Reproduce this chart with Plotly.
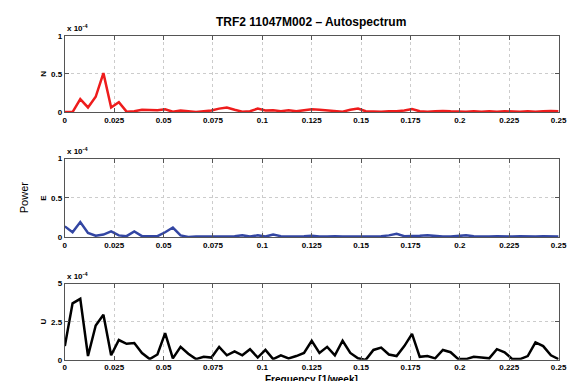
import plotly.graph_objects as go

freq_step = 1 / 256
n_points = 65
freq = [i * freq_step for i in range(n_points)]

N_vals = [0.0, 0.0, 0.17, 0.06, 0.2, 0.51, 0.06, 0.13, 0.005, 0.01, 0.03, 0.025, 0.025, 0.035, 0.005,
          0.02, 0.01, 0.0, 0.01, 0.02, 0.045, 0.06, 0.03, 0.005, 0.01, 0.045, 0.02, 0.025, 0.01, 0.025,
          0.01, 0.02, 0.035, 0.03, 0.02, 0.01, 0.005, 0.03, 0.045, 0.01, 0.005, 0.005, 0.01, 0.01, 0.02,
          0.04, 0.01, 0.005, 0.01, 0.015, 0.01, 0.005, 0.005, 0.01, 0.005, 0.01, 0.005, 0.01, 0.005, 0.005,
          0.01, 0.005, 0.01, 0.015, 0.01]
E_vals = [0.135, 0.06, 0.19, 0.05, 0.015, 0.03, 0.07, 0.02, 0.01, 0.07, 0.01, 0.01, 0.01, 0.06, 0.12,
          0.02, 0.0, 0.005, 0.005, 0.01, 0.005, 0.005, 0.01, 0.02, 0.005, 0.02, 0.005, 0.03, 0.01, 0.005,
          0.005, 0.01, 0.015, 0.005, 0.005, 0.01, 0.005, 0.005, 0.005, 0.01, 0.005, 0.01, 0.02, 0.04, 0.01,
          0.01, 0.015, 0.02, 0.01, 0.005, 0.005, 0.01, 0.02, 0.01, 0.005, 0.005, 0.01, 0.005, 0.005, 0.01,
          0.005, 0.005, 0.01, 0.005, 0.005]
U_vals = [0.9, 3.7, 4.0, 0.25, 2.25, 2.95, 0.3, 1.3, 1.05, 1.1, 0.45, 0.05, 0.35, 1.75, 0.1,
          0.85, 0.4, 0.05, 0.2, 0.15, 0.85, 0.3, 0.55, 0.3, 0.7, 0.15, 0.65, 0.05, 0.3, 0.1,
          0.25, 0.45, 1.25, 0.45, 0.85, 0.3, 1.25, 0.45, 0.1, 0.0, 0.65, 0.8, 0.35, 0.25, 0.9,
          1.7, 0.2, 0.25, 0.1, 0.65, 0.5, 0.05, 0.05, 0.2, 0.15, 0.1, 0.7, 0.5, 0.05, 0.05,
          0.25, 1.15, 0.9, 0.3, 0.05]

x_ticks = [0, 0.025, 0.05, 0.075, 0.1, 0.125, 0.15, 0.175, 0.2, 0.225, 0.25]
x_ticktext = ["0", "0.025", "0.05", "0.075", "0.1", "0.125", "0.15", "0.175", "0.2", "0.225", "0.25"]
panel_names = ["N", "E", "U"]
panel_colors = ["#ee1c1c", "#3346a3", "#000000"]
y_ticks = [[0, 0.5, 1], [0, 0.5, 1], [0, 2.5, 5]]
y_ticktext = [["0", "0.5", "1"], ["0", "0.5", "1"], ["0", "2.5", "5"]]
series = [N_vals, E_vals, U_vals]

W, H = 573, 381
SC = 0.985  # observed shrink of the captured page


def px(x):
    return (x / SC) / W


def py(y):
    return 1 - (y / SC) / H


x0, x1 = 63, 558
panels_px = [(32, 109), (156, 235), (282, 359)]

fig = go.Figure()
font_family = "Liberation Sans, Arial, sans-serif"

for k in range(3):
    xa = "xaxis" if k == 0 else f"xaxis{k+1}"
    ya = "yaxis" if k == 0 else f"yaxis{k+1}"
    xref = "x" if k == 0 else f"x{k+1}"
    yref = "y" if k == 0 else f"y{k+1}"
    fig.add_trace(go.Scatter(x=freq, y=series[k], mode="lines",
                             line=dict(color=panel_colors[k], width=2.5),
                             xaxis=xref, yaxis=yref, showlegend=False,
                             hoverinfo="skip"))
    top, bot = panels_px[k]
    common = dict(showline=True, linecolor="#555555", linewidth=1, mirror="ticks",
                  ticks="inside", ticklen=4, tickcolor="#555555",
                  showgrid=True, gridcolor="#cccccc", griddash="dot", gridwidth=1,
                  zeroline=False, ticklabeloverflow="allow",
                  tickfont=dict(family=font_family, size=8, color="#000000", weight="bold"))
    fig.layout[xa] = dict(domain=[px(x0), px(x1)], range=[0, 0.25], anchor=yref,
                          tickvals=x_ticks, ticktext=x_ticktext, **common)
    fig.layout[ya] = dict(domain=[py(bot), py(top)],
                          range=[y_ticks[k][0], y_ticks[k][-1]], anchor=xref,
                          tickvals=y_ticks[k], ticktext=y_ticktext[k], **common)
    fig.add_annotation(x=px(x0), y=py(top - 1), xref="paper", yref="paper",
                       xanchor="left", yanchor="bottom", showarrow=False,
                       text="<b>x 10<sup>-4</sup></b>",
                       font=dict(family=font_family, size=8, color="#000000"))
    fig.add_annotation(x=px(42), y=py((top + bot) / 2), xref="paper", yref="paper",
                       xanchor="center", yanchor="middle", showarrow=False, textangle=-90,
                       text=f"<b>{panel_names[k]}</b>",
                       font=dict(family=font_family, size=8, color="#000000"))

fig.add_annotation(x=px(22), y=py(195), xref="paper", yref="paper",
                   xanchor="center", yanchor="middle", showarrow=False, textangle=-90,
                   text="Power", font=dict(family=font_family, size=11, color="#000000"))
fig.add_annotation(x=px(310), y=py(18), xref="paper", yref="paper",
                   xanchor="center", yanchor="middle", showarrow=False,
                   text="<b>TRF2 11047M002 – Autospectrum</b>",
                   font=dict(family=font_family, size=12, color="#000000"))
fig.add_annotation(x=px(310), y=py(371), xref="paper", yref="paper",
                   xanchor="center", yanchor="top", showarrow=False,
                   text="<b>Frequency [1/week]</b>",
                   font=dict(family=font_family, size=10, color="#000000"))

fig.update_layout(width=W, height=H, autosize=False,
                  margin=dict(l=0, r=0, t=0, b=0),
                  paper_bgcolor="white", plot_bgcolor="white")

fig.write_html("out.html",
               config={"displayModeBar": False},
               post_script=("document.documentElement.style.margin='0';"
                            "document.documentElement.style.overflow='hidden';"
                            "document.body.style.margin='0';"
                            "document.body.style.overflow='hidden';"))
